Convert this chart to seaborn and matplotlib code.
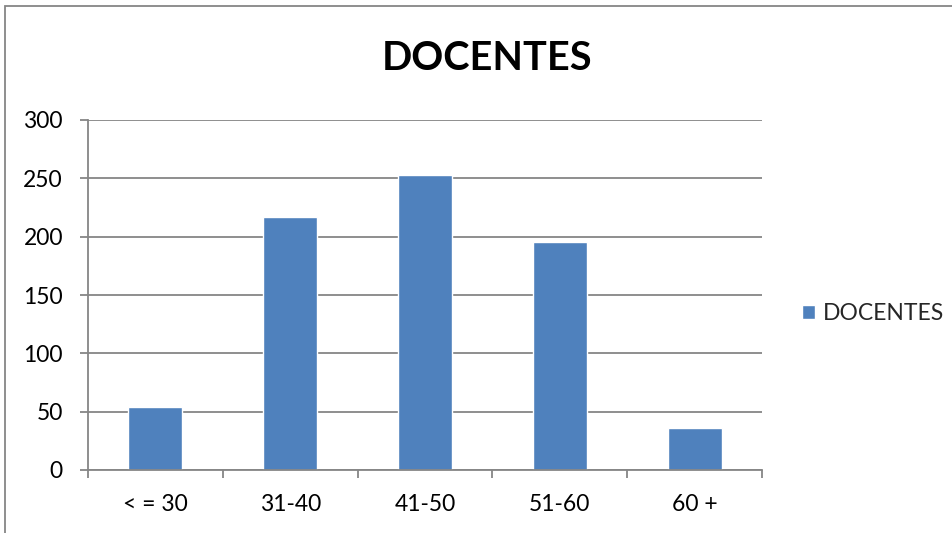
import matplotlib
matplotlib.use("Agg")
import matplotlib.pyplot as plt
import seaborn as sns
import pandas as pd
from matplotlib.patches import Rectangle

categories = ["< = 30", "31-40", "41-50", "51-60", "60 +"]
values = [54, 217, 253, 195, 36]
series_name = "DOCENTES"
title = "DOCENTES"
y_ticks = [0, 50, 100, 150, 200, 250, 300]

sns.set_theme(style="white")
plt.rcParams['font.family'] = ['Lato', 'DejaVu Sans']

df = pd.DataFrame({"cat": categories, "val": values, "serie": series_name})

fig = plt.figure(figsize=(9.53, 5.33), dpi=100)
ax = fig.add_axes([88/953, 63/533, (762-88)/953, (470-120)/533])

sns.barplot(data=df, x="cat", y="val", hue="serie", palette=["#4F81BD"],
            width=0.4, ax=ax, saturation=1, legend=True)

ax.set_ylim(0, 300)
ax.set_xlim(-0.5, len(categories) - 0.5)
ax.set_yticks(y_ticks)
ax.set_yticklabels([str(t) for t in y_ticks])
ax.yaxis.grid(True, color="#868686", linewidth=1.3)
ax.set_axisbelow(True)
ax.set_xlabel("")
ax.set_ylabel("")

for s in ["top", "right"]:
    ax.spines[s].set_visible(False)
for s in ["left", "bottom"]:
    ax.spines[s].set_color("#868686")
    ax.spines[s].set_linewidth(1.3)

ax.tick_params(axis="y", which="major", length=6, width=1.3, color="#868686",
               left=True, labelsize=16.5, pad=12, labelcolor="black")
ax.tick_params(axis="x", which="major", length=0, labelsize=16.5, pad=17, labelcolor="black")
ax.set_xticks(range(len(categories)))
ax.set_xticklabels(categories)
ax.set_xticks([i - 0.5 for i in range(len(categories) + 1)], minor=True)
ax.tick_params(axis="x", which="minor", length=6, width=1.3, color="#868686", bottom=True)

fig.text(487/953, 1 - 58/533, title, ha="center", va="center",
         fontsize=28.5, fontweight="bold", color="black")

leg = ax.legend(loc="center left", bbox_to_anchor=(802/953, 1 - 314/533),
                bbox_transform=fig.transFigure, frameon=False, fontsize=16.5,
                handlelength=0.57, handleheight=0.57, handletextpad=0.35,
                borderpad=0, borderaxespad=0)

fig.patches.append(Rectangle((5/953, -0.1), 1.2, 1 - 6/533 + 0.1,
                             transform=fig.transFigure, fill=False,
                             edgecolor="#868686", linewidth=1.3))

fig.savefig("out.png", dpi=100)
